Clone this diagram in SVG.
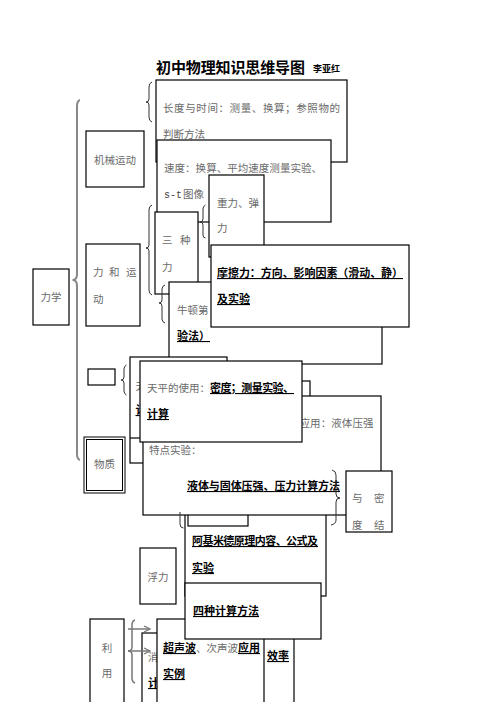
<svg xmlns="http://www.w3.org/2000/svg" width="496" height="702" viewBox="0 0 496 702">
<defs>
<style>
.bx{fill:#fff;stroke:#000;stroke-width:1.2}
.t{font-family:"Noto Sans CJK SC","Noto Sans",sans-serif;font-size:10.5px;fill:#6a6a6a}
.b{font-family:"Noto Sans CJK SC","Noto Sans",sans-serif;font-size:11px;font-weight:700;fill:#000;text-decoration:underline}
.br{fill:none;stroke:#333;stroke-width:1}
.gr{fill:none;stroke:#888;stroke-width:2}
.ar{fill:none;stroke:#777;stroke-width:1.5}
</style>
<marker id="ah" markerWidth="8" markerHeight="8" refX="7" refY="4" orient="auto" markerUnits="userSpaceOnUse">
<path d="M1 1 L7 4 L1 7" fill="none" stroke="#777" stroke-width="1.3"/>
</marker>
</defs>
<rect width="496" height="702" fill="#fff"/>
<g id="title">
<text x="156" y="73" font-family="Noto Sans CJK SC,sans-serif" font-size="15" font-weight="700" textLength="149">初中物理知识思维导图</text>
<text x="313" y="72" font-family="Noto Sans CJK SC,sans-serif" font-size="9" font-weight="700" textLength="27">李亚红</text>
</g>
<g id="n-lixue"><rect class="bx" x="33" y="269" width="36" height="56"/><text class="t" x="51" y="301" text-anchor="middle">力学</text></g>
<g id="n-jixie"><rect class="bx" x="86" y="131" width="58" height="56"/><text class="t" x="115" y="164" text-anchor="middle">机械运动</text></g>
<g id="n-liheyundong"><rect class="bx" x="86" y="244" width="54" height="82"/><text class="t" x="93" y="276">力<tspan x="109">和</tspan><tspan x="126">运</tspan></text><text class="t" x="93" y="303">动</text></g>
<g id="n-wuzhi"><rect fill="#fff" stroke="#000" stroke-width="1" x="84" y="437" width="41" height="56"/><rect fill="none" stroke="#000" stroke-width="1" x="86.5" y="439.5" width="36" height="51"/><text class="t" x="104.5" y="468" text-anchor="middle">物质</text></g>
<g id="n-empty"><rect class="bx" x="88" y="369" width="27" height="16"/></g>
<g id="n-fuli"><rect class="bx" x="140" y="548" width="36" height="56"/><text class="t" x="158" y="581" text-anchor="middle">浮力</text></g>
<g id="n-liyong"><rect class="bx" x="90" y="619" width="34" height="90"/><text class="t" x="107" y="652" text-anchor="middle">利</text><text class="t" x="107" y="677" text-anchor="middle">用</text></g>
<g id="n-changdu"><rect class="bx" x="156" y="80" width="191" height="82"/><text class="t" x="163" y="112" textLength="177">长度与时间：测量、换算；参照物的</text><text class="t" x="163" y="138">判断方法</text></g>
<g id="n-sudu"><rect class="bx" x="157" y="140" width="174" height="82"/><text class="t" x="164" y="172" textLength="158">速度：换算、平均速度测量实验、</text><text class="t" x="164" y="198"><tspan font-family="Liberation Mono,monospace" font-size="10" fill="#444">s-t</tspan><tspan x="183">图像</tspan></text></g>
<g id="n-zhongli"><rect class="bx" x="209" y="175" width="55" height="82"/><text class="t" x="217" y="207">重力、弹</text><text class="t" x="217" y="232">力</text></g>
<g id="n-sanzhongli"><rect class="bx" x="155" y="212" width="43" height="82"/><text class="t" x="162" y="244">三<tspan x="180">种</tspan></text><text class="t" x="162" y="271">力</text></g>
<g id="n-niudun"><rect class="bx" x="169" y="282" width="213" height="82"/><text class="t" x="177" y="314">牛顿第</text><text class="b" x="177" y="340">验法）</text></g>
<g id="n-mocali"><rect class="bx" x="211" y="245" width="198" height="82"/><text class="b" x="217" y="277" textLength="186">摩擦力：方向、影响因素（滑动、静）</text><text class="b" x="217" y="303">及实验</text></g>
<g id="n-hidden-x"><rect class="bx" x="130" y="357" width="97" height="106"/><text class="t" x="135.5" y="390">天</text><text class="b" x="135.5" y="414">计</text></g>
<g id="n-hidden-w"><line x1="130" y1="438" x2="143" y2="438" stroke="#000" stroke-width="1.2"/></g>
<g id="n-hidden-v"><rect class="bx" x="250" y="381" width="60" height="30"/></g>
<g id="n-ajimide"><rect class="bx" x="185" y="480" width="141" height="116"/><text class="b" x="192" y="545" textLength="126">阿基米德原理内容、公式及</text><text class="b" x="192" y="572">实验</text></g>
<g id="n-hidden-s"><rect class="bx" x="188" y="480" width="60" height="46"/></g>
<g id="n-yaqiang"><rect class="bx" x="143" y="396" width="238" height="119"/><text class="t" x="299.5" y="427" textLength="74">应用：液体压强</text><text class="t" x="149" y="454">特点实验：</text><text class="b" x="187" y="490" textLength="153">液体与固体压强、压力计算方法</text></g>
<g id="n-tianping"><rect class="bx" x="140" y="361" width="162" height="81"/><text class="t" x="147" y="392">天平的使用：<tspan class="b" textLength="84">密度；测量实验、</tspan></text><text class="b" x="147" y="418">计算</text></g>
<g id="n-midu"><rect class="bx" x="346" y="471" width="46" height="61"/><text class="t" x="352" y="502">与<tspan x="374">密</tspan></text><text class="t" x="352" y="529">度<tspan x="374">结</tspan></text></g>
<g id="n-hidden-q"><rect class="bx" x="142" y="633" width="152" height="80"/><text class="t" x="148" y="661">消</text><text class="b" x="267" y="660">效率</text><text class="b" x="148" y="687">计</text></g>
<g id="n-chaosheng"><rect class="bx" x="157" y="619" width="107" height="90"/><text class="t" x="163" y="652"><tspan class="b">超声波</tspan>、次声波<tspan class="b">应用</tspan></text><text class="b" x="163" y="678">实例</text></g>
<g id="n-sizhong"><rect class="bx" x="185" y="583" width="136" height="56"/><text class="b" x="193" y="615">四种计算方法</text></g>
<g id="connectors">
<path class="gr" d="M80 100 Q77 101 77 106 L77 274 Q77 280 72.5 280 Q77 280 77 286 L77 454 Q77 459 80 460"/>
<path class="br" d="M152 82 Q149 83 149 87 L149 99 Q149 102 146 102 Q149 102 149 105 L149 117 Q149 121 152 122"/>
<path class="br" d="M152 205 Q149 206 149 210 L149 245 Q149 248 146 248 Q149 248 149 251 L149 290 Q149 294 152 295"/>
<path class="br" d="M205.5 205 Q203 206 203 209 L203 219 Q203 222 200 222 Q203 222 203 225 L203 235 Q203 238 205.5 238"/>
<path class="br" d="M165 285 Q162 286 162 289 L162 300 Q162 303 159 303 Q162 303 162 306 L162 319 Q162 322 165 323"/>
<path class="br" d="M126.5 365 Q124 366 124 369 L124 377 Q124 380 121 380 Q124 380 124 383 L124 391 Q124 394 126.5 395"/>
<path class="br" d="M332 470 Q336 471 336 475 L336 494 Q336 498 340 498 Q336 498 336 502 L336 520 Q336 524 331 525"/>
<path class="br" d="M180 512 L180 524 Q180 528 183.5 528"/>
<path class="ar" stroke-width="1.3" d="M135 620 Q132 621 132 625 L132 647 Q132 651 128 651 Q132 651 132 655 L132 678 Q132 682 135 683"/>
<line class="ar" x1="128" y1="629" x2="150" y2="629" marker-end="url(#ah)"/>
<line class="ar" x1="128" y1="651" x2="150" y2="651" marker-end="url(#ah)"/>
</g>
</svg>
